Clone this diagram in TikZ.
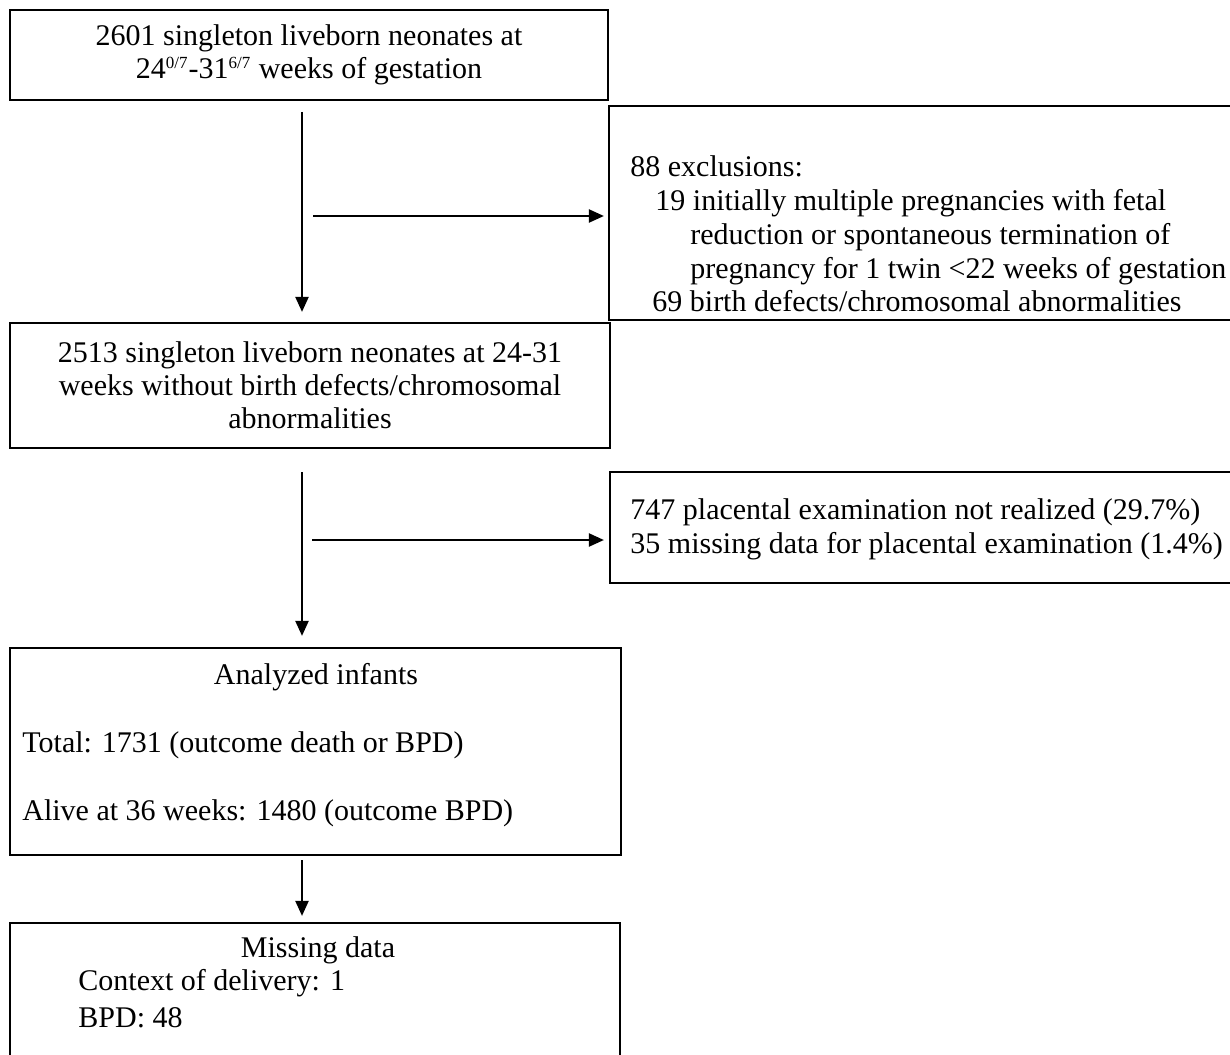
\documentclass[tikz,border=0pt]{standalone}
\usepackage{fontspec}
\setmainfont{Liberation Serif}
\usetikzlibrary{arrows.meta,fit}
\newcommand{\supfr}[1]{\textsuperscript{\fontsize{8.5}{8.5}\selectfont #1}}
\begin{document}
\begin{tikzpicture}[x=0.5pt,y=-0.5pt,
  box/.style={draw, line width=1.1pt, inner sep=0pt},
  txt/.style={inner sep=0pt, font=\fontsize{15}{16.5}\selectfont},
  arr/.style={line width=1.1pt, -{Triangle[length=7.5pt,width=6.5pt]}}]
\useasboundingbox (0,0) rectangle (1230,1054);
\fill[white] (0,0) rectangle (1230,1054);
\clip (0,0) rectangle (1230,1054);
% boxes
\node[box, fit={(10,10) (608,100)}] (b1) {};
\node[box, fit={(609,106) (1245,320)}] (b3) {};
\node[box, fit={(10,323) (610,448)}] (b2) {};
\node[box, fit={(610,472) (1245,583)}] (b5) {};
\node[box, fit={(10,648) (621,855)}] (b4) {};
\node[box, fit={(10,923) (620,1070)}] (b6) {};
% texts
\node[txt, align=center] (t1) at (b1.center) {2601 singleton liveborn neonates at\\24\supfr{0/7}-31\supfr{6/7} weeks of gestation};
\node[txt, align=center] (t2) at (b2.center) {2513 singleton liveborn neonates at 24-31\\weeks without birth defects/chromosomal\\abnormalities};
\node[txt, anchor=base west] (t3a) at (630,176) {88 exclusions:};
\node[txt, anchor=base west] (t3b) at (655,210) {19 initially multiple pregnancies with fetal};
\node[txt, anchor=base west] (t3c) at (690,244) {reduction or spontaneous termination of};
\node[txt, anchor=base west] (t3d) at (690,278) {pregnancy for 1 twin <22 weeks of gestation};
\node[txt, anchor=base west] (t3e) at (652,311) {69 birth defects/chromosomal abnormalities};
\node[txt, anchor=base west] (t5a) at (630,519) {747 placental examination not realized (29.7\%)};
\node[txt, anchor=base west] (t5b) at (630,553) {35 missing data for placental examination (1.4\%)};
\node[txt, anchor=base] (t4a) at (316,684) {Analyzed infants};
\node[txt, anchor=base west] (t4b) at (22,752) {Total: 1731 (outcome death or BPD)};
\node[txt, anchor=base west] (t4c) at (22,820) {Alive at 36 weeks: 1480 (outcome BPD)};
\node[txt, anchor=base] (t6a) at (318,957) {Missing data};
\node[txt, anchor=base west] (t6b) at (78,990) {Context of delivery: 1};
\node[txt, anchor=base west] (t6c) at (78,1027) {BPD: 48};
% connectors
\coordinate (a1s) at (302,112);
\coordinate (h1s) at (313,216);
\coordinate (a2s) at (302,472);
\coordinate (h2s) at (312,540);
\coordinate (a3s) at (302,860);
\draw[arr, shorten >=5pt] (a1s) -- (b2.north -| a1s);
\draw[arr, shorten >=2pt] (h1s) -- (h1s -| b3.west);
\draw[arr, shorten >=5.5pt] (a2s) -- (b4.north -| a2s);
\draw[arr, shorten >=2.5pt] (h2s) -- (h2s -| b5.west);
\draw[arr, shorten >=3pt] (a3s) -- (b6.north -| a3s);
\end{tikzpicture}
\end{document}
